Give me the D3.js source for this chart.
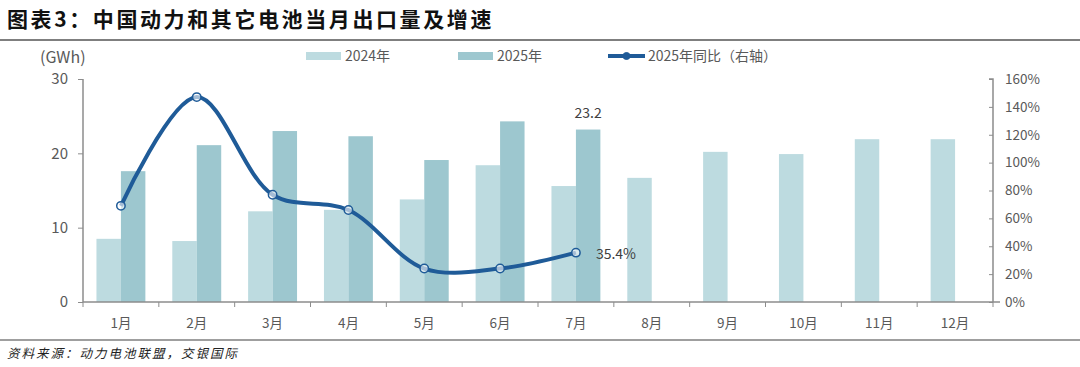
<!DOCTYPE html>
<html><head><meta charset="utf-8">
<script src="https://cdn.jsdelivr.net/npm/d3@7"></script>
<style>
body{margin:0;background:#fff;}
text{font-family:"Noto Sans CJK SC","Noto Sans",sans-serif;}
</style></head>
<body><svg id="c" width="1080" height="367"></svg>
<script>
const months = ["1月","2月","3月","4月","5月","6月","7月","8月","9月","10月","11月","12月"];
const v2024 = [8.5,8.2,12.2,12.4,13.8,18.4,15.6,16.7,20.2,19.9,21.9,21.9];
const v2025 = [17.6,21.1,23.0,22.3,19.1,24.3,23.2];
const yoy2025 = [69,147,77,66,24,24,35.4];
const leftTicks = [0,10,20,30];
const rightTicks = [0,20,40,60,80,100,120,140,160];

const svg = d3.select("#c");
const L=83, R=993, T=79, B=302;
const c24="#BDDBE0", c25="#9DC7CF", cl="#1F5B98", grey="#595959", ax="#8C8C8C";

// title
svg.append("text").attr("x",7).attr("y",27).attr("font-size",21).attr("font-weight","bold")
  .attr("letter-spacing",2.6).attr("fill","#111").text("图表3：中国动力和其它电池当月出口量及增速");
svg.append("line").attr("x1",0).attr("x2",1080).attr("y1",40).attr("y2",40).attr("stroke","#7f7f7f").attr("stroke-width",2);
svg.append("line").attr("x1",0).attr("x2",1080).attr("y1",340).attr("y2",340).attr("stroke","#7f7f7f").attr("stroke-width",1.5);
svg.append("text").attr("x",7).attr("y",358).attr("font-size",12.5).attr("font-style","italic")
  .attr("letter-spacing",2).attr("fill","#222").text("资料来源：动力电池联盟，交银国际");

const x = d3.scaleBand().domain(months).range([L,R]);
const xi = d3.scaleBand().domain(["a","b"]).range([0,x.bandwidth()]).paddingInner(0).paddingOuter(0.55);
const y = d3.scaleLinear().domain([0,30]).range([B,T]);
const y2 = d3.scaleLinear().domain([0,160]).range([B,T]);

// bars
svg.append("g").selectAll("rect").data(v2024).join("rect")
  .attr("x",(d,i)=>x(months[i])+xi("a")).attr("width",xi.bandwidth())
  .attr("y",d=>y(d)).attr("height",d=>B-y(d)).attr("fill",c24);
svg.append("g").selectAll("rect").data(v2025).join("rect")
  .attr("x",(d,i)=>x(months[i])+xi("b")).attr("width",xi.bandwidth())
  .attr("y",d=>y(d)).attr("height",d=>B-y(d)).attr("fill",c25);

// axes
const la = svg.append("g").attr("transform",`translate(${L},0)`)
  .call(d3.axisLeft(y).tickValues(leftTicks).tickSize(5).tickPadding(10));
const ra = svg.append("g").attr("transform",`translate(${R},0)`)
  .call(d3.axisRight(y2).tickValues(rightTicks).tickFormat(d=>d+"%").tickSizeInner(-5).tickSizeOuter(0).tickPadding(12));
ra.selectAll(".tick line").attr("x1",-4).attr("x2",0);
const ba = svg.append("g").attr("transform",`translate(0,${B})`)
  .call(d3.axisBottom(x).tickSize(0).tickPadding(16));
ba.select(".domain").attr("d",`M${L},0H${R+7}`);
// boundary ticks
const bounds = months.map(m=>x(m)).concat([R]);
svg.append("g").selectAll("line").data(bounds).join("line")
  .attr("x1",d=>d).attr("x2",d=>d).attr("y1",B).attr("y2",B+5).attr("stroke",ax);
[la,ra,ba].forEach(g=>{
  g.selectAll(".domain").attr("stroke",ax).attr("stroke-width",1.5);
  g.selectAll(".tick line").attr("stroke",ax);
  g.selectAll("text").attr("fill",grey).attr("font-family","'Open Sans','Noto Sans CJK SC',sans-serif");
});
la.selectAll("text").attr("font-size",15);
ra.selectAll("text").attr("font-size",13.5);
ba.selectAll("text").attr("font-size",13.5);
la.select(".domain").attr("d",`M0,${T}V${B}`);
la.selectAll(".tick line").attr("x1",-5).attr("x2",0);
ra.select(".domain").attr("d",`M-4,${T}H0V${B}`);

svg.append("text").attr("x",40).attr("y",63).attr("font-size",16).attr("fill",grey)
  .attr("font-family","'Open Sans',sans-serif").text("(GWh)");

// line
const pts = yoy2025.map((d,i)=>[x(months[i])+x.bandwidth()/2, y2(d)]);
svg.append("path").attr("d",d3.line().curve(d3.curveCatmullRom.alpha(0.5))(pts))
  .attr("fill","none").attr("stroke",cl).attr("stroke-width",4);
svg.append("g").selectAll("circle").data(pts).join("circle")
  .attr("cx",d=>d[0]).attr("cy",d=>d[1]).attr("r",4.2)
  .attr("fill","#fff").attr("fill-opacity",0.6).attr("stroke",cl).attr("stroke-width",1.5);

// labels
svg.append("text").attr("x",x(months[6])+xi("b")+xi.bandwidth()/2).attr("y",y(23.2)-12)
  .attr("text-anchor","middle").attr("font-size",14).attr("fill","#404040")
  .attr("font-family","'Open Sans',sans-serif").text(v2025[6].toFixed(1));
svg.append("text").attr("x",pts[6][0]+20).attr("y",pts[6][1]+6)
  .attr("font-size",14).attr("fill","#404040")
  .attr("font-family","'Open Sans',sans-serif").text(yoy2025[6].toFixed(1)+"%");

// legend
const lg = svg.append("g").attr("font-size",14).attr("fill",grey);
lg.append("rect").attr("x",306).attr("y",52).attr("width",35).attr("height",8).attr("fill",c24);
lg.append("text").attr("x",345).attr("y",61).attr("fill",grey).text("2024年");
lg.append("rect").attr("x",458).attr("y",52).attr("width",35).attr("height",8).attr("fill",c25);
lg.append("text").attr("x",497).attr("y",61).attr("fill",grey).text("2025年");
lg.append("line").attr("x1",608).attr("x2",645).attr("y1",56).attr("y2",56).attr("stroke",cl).attr("stroke-width",4);
lg.append("circle").attr("cx",626.5).attr("cy",56).attr("r",3.5).attr("fill",cl).attr("stroke",cl);
lg.append("text").attr("x",648).attr("y",61).attr("fill",grey).text("2025年同比（右轴）");
</script></body></html>
